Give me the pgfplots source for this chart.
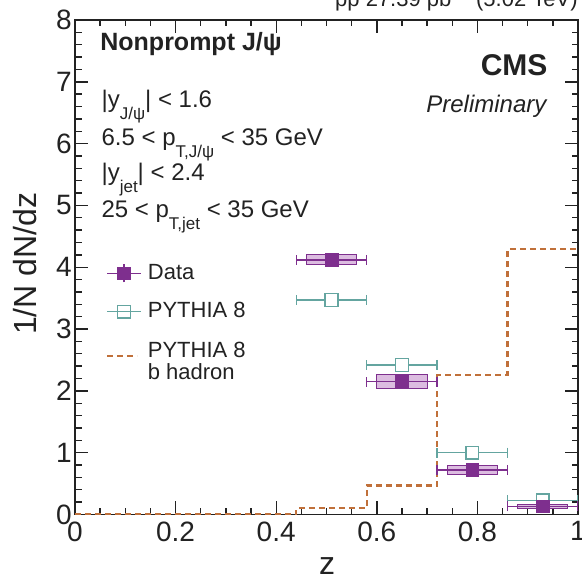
\documentclass[border=0pt]{standalone}
\usepackage{fontspec}
\setmainfont{Liberation Sans}
\usepackage{pgfplots}
\pgfplotsset{compat=1.18}

\definecolor{cmspurple}{HTML}{7E2F8E}
\definecolor{cmsbox}{HTML}{DCBCE0}
\definecolor{cmsteal}{HTML}{64A5A0}
\definecolor{cmsbrown}{HTML}{C0703A}
\definecolor{axgray}{HTML}{222222}

\newcommand\sub[1]{\raisebox{-6.2pt}{\fontsize{8.5}{8.5}\selectfont #1}}

\begin{document}
\begin{tikzpicture}[txt/.style={inner sep=0pt, text=axgray}]
\begin{axis}[
  scale only axis, width=251.5pt, height=247.25pt,
  xmin=0, xmax=1, ymin=0, ymax=8,
  xtick={0,0.2,0.4,0.6,0.8,1}, ytick={0,1,2,3,4,5,6,7,8},
  minor x tick num=3, minor y tick num=4,
  major tick length=6.5pt, minor tick length=3.25pt,
  tick align=inside,
  axis line style={line width=0.8pt, color=axgray},
  every tick/.style={line width=0.7pt, color=axgray},
  /pgf/number format/assume math mode=true,
  ticklabel style={font=\fontsize{14}{14}\selectfont, color=axgray},
  yticklabel style={inner xsep=1.5pt},
  xlabel={z}, ylabel={1/N dN/dz},
  label style={font=\fontsize{16}{16}\selectfont, color=axgray},
  xlabel style={at={(rel axis cs:0.501,0)}, anchor=base, yshift=-30.25pt},
  ylabel style={at={([xshift=-25pt]rel axis cs:0,0.507)}, anchor=center},
  reverse legend,
  legend cell align=left,
  legend style={at={(rel axis cs:0.061,0.508)}, anchor=north west,
    draw=none, fill=none, inner sep=0pt, row sep=9.75pt, column sep=3pt,
    font=\fontsize{11}{12}\selectfont, text=axgray,
    nodes={inner sep=0pt}},
]
% b hadron histogram
\addplot[const plot, color=cmsbrown, line width=1.1pt, dash pattern=on 3pt off 2pt,
  legend image code/.code={\draw[cmsbrown, line width=1.1pt, dash pattern=on 3pt off 2pt] (0pt,0pt) -- (15pt,0pt);}]
  coordinates {(0,0) (0.44,0.1) (0.58,0.47) (0.72,2.26) (0.86,4.29) (1,4.29)};
\addlegendentry{\begin{tabular}{@{}l@{}}PYTHIA 8\\[-1pt]b hadron\end{tabular}}
% systematic boxes
\addplot[fill=cmsbox, draw=cmspurple, line width=0.5pt, forget plot] coordinates {(0.46,4.04) (0.56,4.04) (0.56,4.21) (0.46,4.21)} -- cycle;
\addplot[fill=cmsbox, draw=cmspurple, line width=0.5pt, forget plot] coordinates {(0.60,2.04) (0.70,2.04) (0.70,2.27) (0.60,2.27)} -- cycle;
\addplot[fill=cmsbox, draw=cmspurple, line width=0.5pt, forget plot] coordinates {(0.74,0.65) (0.84,0.65) (0.84,0.79) (0.74,0.79)} -- cycle;
\addplot[fill=cmsbox, draw=cmspurple, line width=0.5pt, forget plot] coordinates {(0.88,0.10) (0.98,0.10) (0.98,0.165) (0.88,0.165)} -- cycle;
% PYTHIA 8
\addplot[only marks, mark=square*, mark size=3.2pt, color=cmsteal,
  mark options={fill=white, line width=0.7pt},
  legend image code/.code={\draw[cmsteal, line width=0.7pt] (0pt,0pt) -- (17pt,0pt);
     \draw[cmsteal, line width=0.7pt] (5.3pt,-3.2pt) rectangle (11.7pt,3.2pt);},
  error bars/.cd, x dir=both, x explicit, error mark=|,
  error bar style={line width=0.7pt},
  error mark options={mark size=2.5pt, line width=0.7pt}]
  coordinates {(0.51,3.47) +- (0.07,0) (0.65,2.42) +- (0.07,0) (0.79,1.0) +- (0.07,0) (0.93,0.23) +- (0.07,0)};
\addlegendentry{PYTHIA 8}
% Data
\addplot[only marks, mark=square*, mark size=3.2pt, color=cmspurple,
  mark options={fill=cmspurple},
  legend image code/.code={\draw[cmspurple, line width=0.7pt] (0pt,0pt) -- (17pt,0pt);
     \draw[cmspurple, line width=0.7pt] (8.5pt,-4.5pt) -- (8.5pt,4.5pt);
     \fill[cmspurple] (5.3pt,-3.2pt) rectangle (11.7pt,3.2pt);},
  error bars/.cd, x dir=both, x explicit, error mark=|,
  error bar style={line width=0.7pt},
  error mark options={mark size=2.5pt, line width=0.7pt}]
  coordinates {(0.51,4.12) +- (0.07,0) (0.65,2.15) +- (0.07,0) (0.79,0.72) +- (0.07,0) (0.93,0.13) +- (0.07,0)};
\addlegendentry{Data}
% texts
\node[txt, anchor=base west, font=\bfseries\fontsize{12.5}{12.5}\selectfont] at (axis cs:0.0497,7.51) {Nonprompt J/ψ};
\node[txt, anchor=base west, font=\fontsize{12}{12}\selectfont] at (axis cs:0.052,6.59) {|y\sub{J/ψ}| < 1.6};
\node[txt, anchor=base west, font=\fontsize{12}{12}\selectfont] at (axis cs:0.052,5.97) {6.5 < p\sub{T,J/ψ} < 35 GeV};
\node[txt, anchor=base west, font=\fontsize{12}{12}\selectfont] at (axis cs:0.052,5.41) {|y\sub{jet}| < 2.4};
\node[txt, anchor=base west, font=\fontsize{12}{12}\selectfont] at (axis cs:0.052,4.81) {25 < p\sub{T,jet} < 35 GeV};
\node[txt, anchor=base east, font=\bfseries\fontsize{15}{15}\selectfont] at (axis cs:0.940,7.107) {CMS};
\node[txt, anchor=base east, font=\itshape\fontsize{12}{12}\selectfont] at (axis cs:0.938,6.51) {Preliminary};
\end{axis}
\node[txt, anchor=base east, font=\fontsize{11}{11}\selectfont] at ([yshift=6.75pt]current axis.north east) {pp 27.39 pb\textsuperscript{−1} (5.02 TeV)};
\pgfresetboundingbox
\path[use as bounding box] ([xshift=-37.5pt,yshift=-31.75pt]current axis.south west) rectangle ([xshift=2pt,yshift=10pt]current axis.north east);
\end{tikzpicture}
\end{document}
